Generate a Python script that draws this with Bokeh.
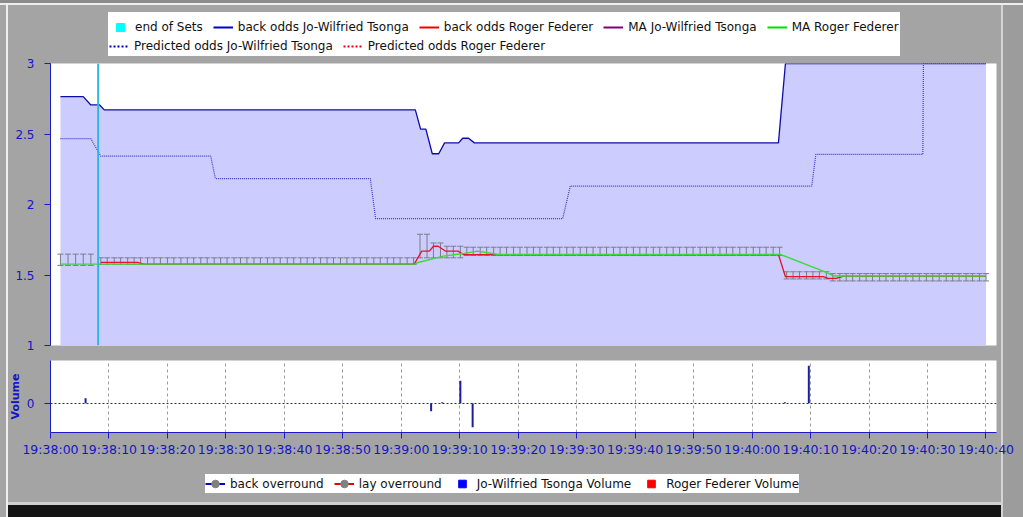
import numpy as np
import pandas as pd
from bokeh.plotting import figure
from bokeh.models import (ColumnDataSource, Range1d, Legend, LegendItem,
                          FixedTicker, SingleIntervalTicker, DatetimeTickFormatter, NumeralTickFormatter)
from bokeh.layouts import column
from bokeh.embed import file_html
from bokeh.resources import INLINE

# ---------------- data (seconds after 19:38:00) ----------------
BASE = pd.Timestamp("2011-01-27 19:38:00")

back_tsonga_sec = [1.7, 5.6, 6.9, 8.4, 9.2, 62.4, 63.3, 64.2, 65.3, 66.4, 67.4, 69.8, 70.5, 71.5, 72.5,
                   124.5, 125.7, 160.0]
back_tsonga_odds = [2.765, 2.765, 2.706, 2.706, 2.671, 2.671, 2.535, 2.535, 2.36, 2.36, 2.437, 2.437,
                    2.47, 2.47, 2.437, 2.437, 3.0, 3.0]

pred_tsonga_sec = [1.7, 6.9, 8.6, 27.4, 28.2, 54.7, 55.6, 87.6, 88.9, 130.2, 130.9, 149.2, 149.3, 160.0]
pred_tsonga_odds = [2.467, 2.467, 2.343, 2.343, 2.183, 2.183, 1.90, 1.90, 2.13, 2.13, 2.355, 2.355,
                    3.0, 3.0]

back_federer_sec = [8.6, 14.9, 16.0, 62.2, 63.5, 64.8, 65.5, 66.3, 67.6, 69.7, 70.6, 124.5, 125.7,
                    132.2, 133.0, 134.4, 135.5, 160.0]
back_federer_odds = [1.589, 1.589, 1.577, 1.577, 1.669, 1.669, 1.704, 1.704, 1.669, 1.669, 1.645,
                     1.645, 1.488, 1.488, 1.476, 1.476, 1.49, 1.49]

ma_federer_sec = [1.7, 62.4, 62.7, 67.2, 70.6, 73.0, 76.6, 124.9, 132.6, 133.9, 160.0]
ma_federer_odds = [1.577, 1.577, 1.587, 1.634, 1.652, 1.669, 1.645, 1.645, 1.52, 1.493, 1.493]

end_of_sets_sec = [8.15]

# Federer back/lay spread at each price poll
poll_sec = [1.7, 3.0, 4.3, 5.6, 6.9,
            8.6, 9.7, 10.9, 12.0, 13.2, 14.3, 15.4, 16.6, 17.7, 18.8, 20.0, 21.1, 22.3, 23.4, 24.5,
            25.7, 26.8, 28.0, 29.1, 30.2, 31.4, 32.5, 33.6, 34.8, 35.9, 37.1, 38.2, 39.3, 40.5, 41.6,
            42.8, 43.9, 45.0, 46.2, 47.3, 48.4, 49.6, 50.7, 51.9, 53.0, 54.1, 55.3, 56.4, 57.6, 58.7,
            59.8, 61.0, 62.1, 63.2, 64.4, 65.5, 66.7, 67.8, 68.9, 70.1, 71.2, 72.3, 73.5, 74.6, 75.8,
            76.9, 78.0, 79.2, 80.3, 81.5, 82.6, 83.7, 84.9, 86.0, 87.1, 88.3, 89.4, 90.6, 91.7, 92.8,
            94.0, 95.1, 96.3, 97.4, 98.5, 99.7, 100.8, 101.9, 103.1, 104.2, 105.4, 106.5, 107.6,
            108.8, 109.9, 111.1, 112.2, 113.3, 114.5, 115.6, 116.7, 117.9, 119.0, 120.2, 121.3,
            122.4, 123.6, 124.7, 125.9, 127.0, 128.1, 129.3, 130.4, 131.5, 132.7, 133.8, 135.0,
            136.1, 137.2, 138.4, 139.5, 140.6, 141.8, 142.9, 144.1, 145.2, 146.3, 147.5, 148.6,
            149.8, 150.9, 152.0, 153.2, 154.3, 155.4, 156.6, 157.7, 158.9, 160.0]
# runs of (number of polls, lower odds, upper odds)
spread_runs = [(5, 1.568, 1.648), (48, 1.575, 1.622), (2, 1.622, 1.789), (2, 1.622, 1.727),
               (3, 1.622, 1.704), (48, 1.638, 1.697), (7, 1.472, 1.523), (24, 1.458, 1.51)]

vol_sec = [6.0, 65.1, 67.0, 70.1, 72.2, 125.6, 129.7]
vol_tsonga = [10, -16, 2, 45, -48, 2, 75]

y_ticks = [1, 1.5, 2, 2.5, 3]
y_tick_labels = ["1", "1.5", "2", "2.5", "3"]
vol_ticks = [0]

# ---------------- style ----------------
GRAY = "#a4a4a4"
AXIS_BLUE = "#1a1ac8"
LABEL_BLUE = "#1414c8"
FONT = "DejaVu Sans"
BORDERS = dict(min_border_left=50, min_border_right=27)


def ts(sec):
    return BASE + pd.to_timedelta(np.asarray(sec, dtype=float), unit="s")


def style_axis(ax):
    ax.axis_line_color = AXIS_BLUE
    ax.major_tick_line_color = AXIS_BLUE
    ax.major_tick_out = 6
    ax.major_tick_in = 0
    ax.minor_tick_line_color = None
    ax.major_label_text_color = LABEL_BLUE
    ax.major_label_text_font = FONT
    ax.major_label_text_font_size = "12px"


def mk_legend(items, **kw):
    return Legend(items=[LegendItem(label=l, renderers=r) for l, r in items], orientation="horizontal",
                  margin=0, spacing=10, label_standoff=5, glyph_width=20, border_line_color=None,
                  label_text_font=FONT, label_text_font_size="12px", label_text_color="#111111", **kw)


def strip(height, top, bottom):
    f = figure(width=1023, height=height, x_range=Range1d(0, 1), y_range=Range1d(0, 1),
               x_axis_location=None, y_axis_location=None, toolbar_location=None, output_backend="svg",
               min_border_top=top, min_border_bottom=bottom, background_fill_alpha=0,
               border_fill_alpha=0, outline_line_color=None, **BORDERS)
    f.grid.visible = False
    return f


xr = Range1d(start=ts([0.0])[0], end=ts([161.8])[0])

# ---------------- legend strip (top) ----------------
pl = strip(56, 12, 0)
k_end = pl.scatter(x=[0.5], y=[0.5], size=0, marker="square", fill_color="#00ffff", line_color="#00ffff")
k_bt = pl.line(x=[0.5], y=[0.5], line_color="#0000cc", line_width=2)
k_bf = pl.line(x=[0.5], y=[0.5], line_color="#ee0000", line_width=2)
k_mt = pl.line(x=[0.5], y=[0.5], line_color="#800080", line_width=2)
k_mf = pl.line(x=[0.5], y=[0.5], line_color="#00dd00", line_width=2)
k_pt = pl.line(x=[0.5], y=[0.5], line_color="#0000cc", line_width=2, line_dash="2 2")
k_pf = pl.line(x=[0.5], y=[0.5], line_color="#ee0000", line_width=2, line_dash="2 2")
k_bg = pl.line(x=[0.5], y=[0.5], line_alpha=0)
leg_bg = mk_legend([("", [k_bg])], location=(58, 0), padding=0, glyph_height=44, label_height=44,
                   label_width=767, background_fill_color="white", background_fill_alpha=1)
leg1 = mk_legend([("end of Sets", [k_end]), ("back odds Jo-Wilfried Tsonga", [k_bt]),
                  ("back odds Roger Federer", [k_bf]), ("MA Jo-Wilfried Tsonga", [k_mt]),
                  ("MA Roger Federer", [k_mf])],
                 location=(60, 19), padding=2, glyph_height=20, label_height=20, background_fill_alpha=0)
leg2 = mk_legend([("Predicted odds Jo-Wilfried Tsonga", [k_pt]), ("Predicted odds Roger Federer", [k_pf])],
                 location=(59, 2), padding=2, glyph_height=16, label_height=16, background_fill_alpha=0)
pl.add_layout(leg_bg)
pl.add_layout(leg1)
pl.add_layout(leg2)

# ---------------- main odds plot ----------------
p = figure(width=1023, height=297, x_axis_type="datetime", x_axis_location=None,
           x_range=xr, y_range=Range1d(1, 3), toolbar_location=None, output_backend="svg",
           min_border_top=7, min_border_bottom=8, background_fill_color="white",
           border_fill_alpha=0, outline_line_color=None, **BORDERS)
p.grid.visible = False
style_axis(p.yaxis[0])
p.yaxis.ticker = FixedTicker(ticks=y_ticks)
p.yaxis.formatter = NumeralTickFormatter(format="0.[0]")
p.yaxis.major_label_overrides = dict(zip(y_ticks, y_tick_labels))
p.yaxis.major_label_standoff = 10

bt = ColumnDataSource(dict(t=ts(back_tsonga_sec), y=back_tsonga_odds))
p.varea(x="t", y1=y_ticks[0], y2="y", source=bt, fill_color="#ccccff")

lower, upper = [], []
for n, lo, up in spread_runs:
    lower += [lo] * n
    upper += [up] * n
sp = ColumnDataSource(dict(t=ts(poll_sec), lower=lower, upper=upper))
WH = "#7c7c88"
p.segment(x0="t", y0="lower", x1="t", y1="upper", source=sp, line_color=WH, line_width=1)
p.scatter(x="t", y="lower", source=sp, marker="dash", size=6, line_color=WH, line_width=1)
p.scatter(x="t", y="upper", source=sp, marker="dash", size=6, line_color=WH, line_width=1)

p.line(x=ts(pred_tsonga_sec), y=pred_tsonga_odds, line_color="#3a3ac4", line_width=1.2, line_dash="1 1")
p.line(x="t", y="y", source=bt, line_color="#0c0ca8", line_width=1.3)
p.line(x=ts(back_federer_sec), y=back_federer_odds, line_color="#e8102a", line_width=1.3)
p.line(x=ts(ma_federer_sec), y=ma_federer_odds, line_color="#3cd83c", line_width=1.4)

# end of sets marker line
p.vbar(x=ts(end_of_sets_sec), width=330, bottom=y_ticks[0], top=y_ticks[-1],
       fill_color="#2fb4de", line_color=None)

# ---------------- volume plot ----------------
pv = figure(width=1023, height=109, x_axis_type="datetime", x_range=xr,
            y_range=Range1d(-58.6, 85.4), toolbar_location=None, output_backend="svg",
            min_border_top=7, min_border_bottom=30, background_fill_color="white",
            border_fill_alpha=0, outline_line_color=None, **BORDERS)
style_axis(pv.xaxis[0])
style_axis(pv.yaxis[0])
pv.xaxis.ticker = SingleIntervalTicker(interval=10000, num_minor_ticks=0)
fmt = "%H:%M:%S"
pv.xaxis.formatter = DatetimeTickFormatter(seconds=fmt, minsec=fmt, minutes=fmt, hourmin=fmt,
                                           hours=fmt, milliseconds=fmt)
pv.xaxis.major_label_text_font_size = "12.5px"
pv.xaxis.major_label_standoff = 3
pv.yaxis.ticker = FixedTicker(ticks=vol_ticks)
pv.yaxis.major_label_standoff = 10
pv.yaxis.axis_label = "Volume"
pv.yaxis.axis_label_text_font = FONT
pv.yaxis.axis_label_text_font_size = "11px"
pv.yaxis.axis_label_text_font_style = "bold"
pv.yaxis.axis_label_text_color = LABEL_BLUE
pv.yaxis.axis_label_standoff = 2
pv.xgrid.grid_line_color = "#9c9c9c"
pv.xgrid.grid_line_dash = "3 3"
pv.ygrid.grid_line_color = "#22228c"
pv.ygrid.grid_line_dash = "2 2"

pv.vbar(x=ts(vol_sec), top=vol_tsonga, bottom=0, width=340, fill_color="#1c1c9c", line_color=None)

# ---------------- legend strip (bottom) ----------------
pb = strip(55, 8, 24)
b_bl = pb.line(x=[0.5], y=[0.5], line_color="#0000cc", line_width=2)
b_bc = pb.scatter(x=[0.5], y=[0.5], size=0, marker="circle", fill_color="#808080", line_color="#808080")
b_ll = pb.line(x=[0.5], y=[0.5], line_color="#ee0000", line_width=2)
b_lc = pb.scatter(x=[0.5], y=[0.5], size=0, marker="circle", fill_color="#808080", line_color="#808080")
b_tv = pb.scatter(x=[0.5], y=[0.5], size=0, marker="square", fill_color="#0000ff", line_color="#0000ff")
b_fv = pb.scatter(x=[0.5], y=[0.5], size=0, marker="square", fill_color="#ff0000", line_color="#ff0000")
leg3 = mk_legend([("back overround", [b_bl, b_bc]), ("lay overround", [b_ll, b_lc]),
                  ("Jo-Wilfried Tsonga Volume", [b_tv]), ("Roger Federer Volume", [b_fv])],
                 location=(155, 0), padding=2, glyph_height=19, label_height=19,
                 background_fill_color="white", background_fill_alpha=1)
pb.add_layout(leg3)

chrome = ", ".join([
    "inset 0 3px 0 0 #8c8c8c",
    "inset 0 5px 0 0 #eeeeee",
    "inset 6px 0 0 0 #a4a4a4",
    "inset 8px 0 0 0 #eeeeee",
    "inset -20px 0 0 0 #9c9c9c",
    "inset -22px 0 0 0 #d4d4d4",
    "inset 0 -12px 0 0 #141414",
    "inset 0 -15px 0 0 #cfcfcf",
])
layout = column(pl, p, pv, pb, spacing=0, styles={"background-color": GRAY, "box-shadow": chrome})

open("out.html", "w").write(file_html(layout, INLINE))
